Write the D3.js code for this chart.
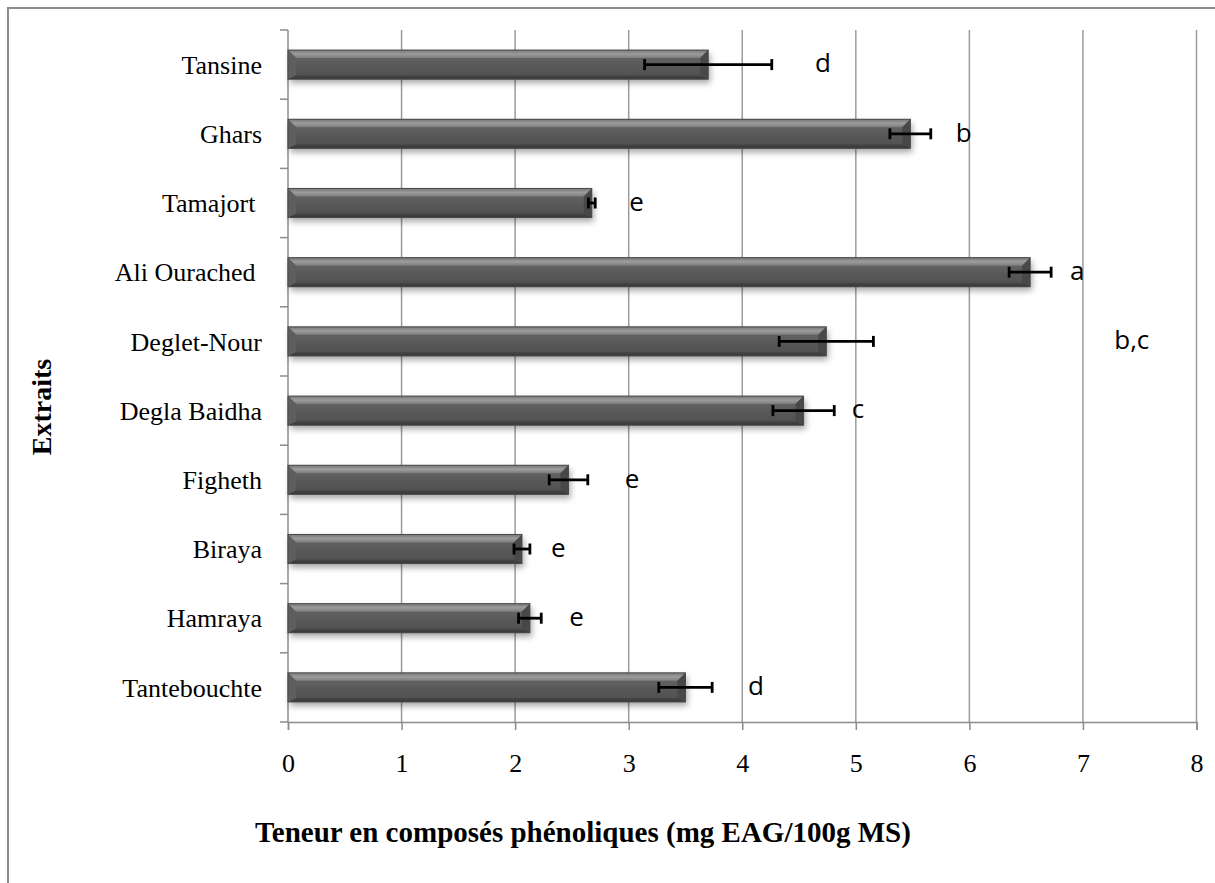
<!DOCTYPE html>
<html><head><meta charset="utf-8">
<script src="https://cdn.jsdelivr.net/npm/d3@7"></script>
<style>html,body{margin:0;padding:0;background:#fff;}svg{display:block;} text{white-space:pre;}</style>
</head><body>
<svg id="chart" width="1215" height="883"></svg>
<script>
// ---- data ----
const categories = ["Tansine","Ghars","Tamajort ","Ali Ourached ","Deglet-Nour","Degla Baidha","Figheth","Biraya","Hamraya","Tantebouchte"];
const values     = [3.70, 5.48, 2.675, 6.535, 4.74, 4.54, 2.47, 2.06, 2.13, 3.50];
const errors     = [0.56, 0.18, 0.03, 0.185, 0.415, 0.27, 0.17, 0.07, 0.10, 0.235];
const letters    = ["d","b","e","a","b,c","c","e","e","e","d"];
const letterAt   = [4.71, 5.95, 3.07, 6.95, 7.43, 5.02, 3.03, 2.38, 2.54, 4.12];
const xTicks     = [0,1,2,3,4,5,6,7,8];
const xTitle = "Teneur en composés phénoliques (mg EAG/100g MS)";
const yTitle = "Extraits";

// ---- layout ----
const svg = d3.select("#chart");
const L = 288, R = 1196.5, T = 30, B = 722;
const x = d3.scaleLinear().domain([0, 8]).range([L, R]);
const y = d3.scaleBand().domain(categories).range([T, B]).paddingInner(0.58).paddingOuter(0.29);
const band = d3.scaleBand().domain(categories).range([T, B]);

const defs = svg.append("defs");
function grad(id, stops) {
  const g = defs.append("linearGradient").attr("id",id).attr("x1",0).attr("y1",0).attr("x2",0).attr("y2",1);
  stops.forEach(([o,c]) => g.append("stop").attr("offset",o).attr("stop-color",c));
}
grad("bodyGrad", [[0,"#6e6e6e"],[0.25,"#626262"],[0.5,"#5a5a5a"],[0.75,"#545454"],[1,"#4c4c4c"]]);
grad("topGrad",  [[0,"#777"],[0.5,"#9c9c9c"],[1,"#7c7c7c"]]);
grad("botGrad",  [[0,"#474747"],[1,"#363636"]]);
const f = defs.append("filter").attr("id","shadow").attr("x","-5%").attr("y","-30%").attr("width","110%").attr("height","180%");
f.append("feDropShadow").attr("dx",2).attr("dy",4).attr("stdDeviation",3).attr("flood-color","#000").attr("flood-opacity",0.35);

// outer border
svg.append("rect").attr("x",8).attr("y",8).attr("width",1260).attr("height",920)
  .attr("fill","none").attr("stroke","#8c8c8c").attr("stroke-width",2);

// gridlines
svg.append("g").selectAll("line").data(xTicks.filter(d => d > 0)).join("line")
  .attr("x1", d => x(d)).attr("x2", d => x(d)).attr("y1", T).attr("y2", B)
  .attr("stroke","#9c9c9c").attr("stroke-width",1.5);

// x axis
const xAxis = svg.append("g").attr("transform",`translate(0,${B})`)
  .call(d3.axisBottom(x).tickValues(xTicks).tickFormat(d3.format("d")).tickSize(8).tickPadding(24));
xAxis.select(".domain").attr("stroke","#8c8c8c").attr("stroke-width",1.5);
xAxis.selectAll(".tick line").attr("stroke","#8c8c8c").attr("stroke-width",1.5);
xAxis.selectAll(".tick text").attr("font-family","'Liberation Serif', 'Times New Roman', serif").attr("font-size",26).attr("fill","#000");

// y axis: line + boundary ticks
svg.append("line").attr("x1",L).attr("x2",L).attr("y1",T).attr("y2",B).attr("stroke","#8c8c8c").attr("stroke-width",1.5);
const bounds = categories.map(c => band(c)).concat([B]);
svg.append("g").selectAll("line").data(bounds).join("line")
  .attr("x1", L - 8).attr("x2", L).attr("y1", d => d).attr("y2", d => d)
  .attr("stroke","#8c8c8c").attr("stroke-width",1.5);
svg.append("g").selectAll("text").data(categories).join("text")
  .attr("x", L - 26).attr("y", d => band(d) + band.bandwidth()/2)
  .attr("dy","0.35em").attr("text-anchor","end")
  .attr("font-family","'Liberation Serif', 'Times New Roman', serif").attr("font-size",26).attr("fill","#000")
  .text(d => d);

// bars with bevel
const bev = 8;
const bars = svg.append("g").selectAll("g").data(categories).join("g");
bars.append("rect")
  .attr("x", x(0)).attr("y", d => y(d))
  .attr("width", (d,i) => x(values[i]) - x(0)).attr("height", y.bandwidth())
  .attr("fill","url(#bodyGrad)").attr("filter","url(#shadow)");
function poly(pts) { return "M" + pts.map(p => p.join(",")).join("L") + "Z"; }
const geom = (d,i) => ({x0: x(0), x1: x(values[i]), y0: y(d), y1: y(d) + y.bandwidth()});
bars.append("path").attr("d",(d,i)=>{const g=geom(d,i);
  return poly([[g.x0,g.y0],[g.x1,g.y0],[g.x1-bev,g.y0+bev],[g.x0+bev,g.y0+bev]]);}).attr("fill","url(#topGrad)");
bars.append("path").attr("d",(d,i)=>{const g=geom(d,i);
  return poly([[g.x0,g.y1],[g.x1,g.y1],[g.x1-bev,g.y1-bev*0.5],[g.x0+bev,g.y1-bev*0.5]]);}).attr("fill","url(#botGrad)");
bars.append("path").attr("d",(d,i)=>{const g=geom(d,i);
  return poly([[g.x0,g.y0],[g.x0+bev,g.y0+bev],[g.x0+bev,g.y1-bev*0.5],[g.x0,g.y1]]);}).attr("fill","#5e5e5e");
bars.append("path").attr("d",(d,i)=>{const g=geom(d,i);
  return poly([[g.x1,g.y0],[g.x1-bev,g.y0+bev],[g.x1-bev,g.y1-bev*0.5],[g.x1,g.y1]]);}).attr("fill","#484848");
bars.append("rect")
  .attr("x", x(0)).attr("y", d => y(d))
  .attr("width", (d,i) => x(values[i]) - x(0)).attr("height", y.bandwidth())
  .attr("fill","none").attr("stroke","#4a4a4a").attr("stroke-width",1);

// error bars
const eb = svg.append("g").selectAll("g").data(categories).join("g")
  .attr("stroke","#000").attr("stroke-width",2.8);
const cy = d => y(d) + y.bandwidth()/2;
eb.append("line").attr("x1",(d,i)=>x(values[i]-errors[i])).attr("x2",(d,i)=>x(values[i]+errors[i]))
  .attr("y1",cy).attr("y2",cy);
eb.append("line").attr("x1",(d,i)=>x(values[i]-errors[i])).attr("x2",(d,i)=>x(values[i]-errors[i]))
  .attr("y1",d=>cy(d)-5.5).attr("y2",d=>cy(d)+5.5);
eb.append("line").attr("x1",(d,i)=>x(values[i]+errors[i])).attr("x2",(d,i)=>x(values[i]+errors[i]))
  .attr("y1",d=>cy(d)-5.5).attr("y2",d=>cy(d)+5.5);

// significance letters
svg.append("g").selectAll("text").data(categories).join("text")
  .attr("x",(d,i)=>x(letterAt[i])).attr("y",d=>cy(d)).attr("dy","0.3em")
  .attr("text-anchor","middle")
  .attr("font-family","'Open Sans', 'Liberation Sans', sans-serif").attr("font-size",26).attr("fill","#000")
  .text((d,i)=>letters[i]);

// titles
svg.append("text").attr("x",583).attr("y",842).attr("text-anchor","middle")
  .attr("font-family","'Liberation Serif', 'Times New Roman', serif").attr("font-weight","bold").attr("font-size",29)
  .text(xTitle);
svg.append("text").attr("transform","translate(51,407) rotate(-90)").attr("text-anchor","middle")
  .attr("font-family","'Liberation Serif', 'Times New Roman', serif").attr("font-weight","bold").attr("font-size",28)
  .text(yTitle);
</script>
</body></html>
